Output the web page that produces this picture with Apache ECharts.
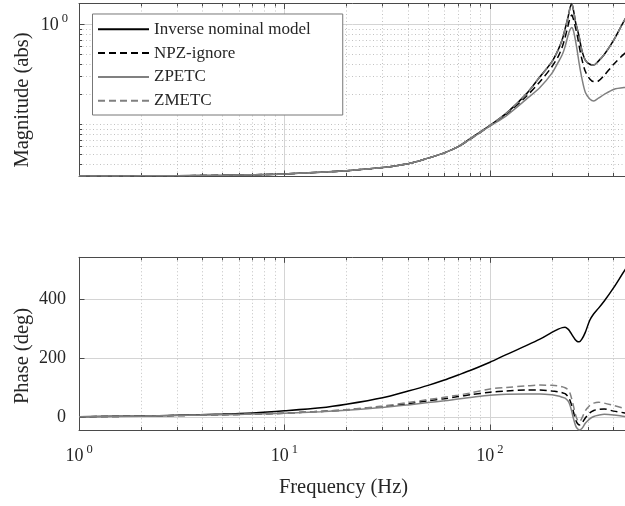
<!DOCTYPE html>
<html><head><meta charset="utf-8">
<script src="https://cdn.jsdelivr.net/npm/echarts@6/dist/echarts.min.js"></script>
<style>html,body{margin:0;padding:0;background:#fff}#c{width:625px;height:506px}</style>
</head><body><div id="c"></div><script>
// ---- data ----
const freq = [1, 2, 3, 5, 7, 10, 15, 20, 30, 40, 50, 60, 70, 80, 100, 120, 150, 175, 200, 215, 225, 232, 240, 245, 250, 255, 261, 266, 272, 280, 291, 306, 320, 337, 360, 400, 453, 500];
const magInverse = [0.0305, 0.0306, 0.0307, 0.031, 0.0314, 0.032, 0.0333, 0.0345, 0.037, 0.0405, 0.046, 0.052, 0.06, 0.072, 0.098, 0.129, 0.201, 0.30, 0.423, 0.56, 0.71, 0.90, 1.19, 1.45, 1.62, 1.38, 1.05, 0.90, 0.74, 0.55, 0.44, 0.40, 0.393, 0.43, 0.50, 0.697, 1.12, 1.55];
const magNPZ = [0.0305, 0.0306, 0.0307, 0.031, 0.0314, 0.032, 0.0333, 0.0345, 0.037, 0.0405, 0.046, 0.052, 0.06, 0.071, 0.097, 0.126, 0.19, 0.267, 0.377, 0.48, 0.60, 0.74, 0.98, 1.15, 1.24, 1.12, 0.92, 0.78, 0.60, 0.45, 0.34, 0.285, 0.268, 0.272, 0.31, 0.40, 0.513, 0.58];
const magZPETC = [0.0305, 0.0306, 0.0307, 0.031, 0.0314, 0.032, 0.0333, 0.0345, 0.037, 0.0405, 0.046, 0.052, 0.06, 0.071, 0.096, 0.122, 0.178, 0.234, 0.324, 0.42, 0.50, 0.60, 0.78, 0.88, 0.93, 0.86, 0.68, 0.54, 0.40, 0.29, 0.21, 0.18, 0.172, 0.183, 0.20, 0.224, 0.234, 0.236];
const magZMETC = [0.0305, 0.0306, 0.0307, 0.031, 0.0314, 0.032, 0.0333, 0.0345, 0.037, 0.0405, 0.046, 0.052, 0.06, 0.072, 0.098, 0.129, 0.201, 0.30, 0.423, 0.56, 0.71, 0.90, 1.19, 1.45, 1.62, 1.38, 1.05, 0.90, 0.74, 0.55, 0.44, 0.40, 0.393, 0.43, 0.50, 0.697, 1.12, 1.55];
const phaseInverse = [2, 4.5, 7, 11, 15, 22, 32, 44, 66, 89, 108, 126, 143, 158, 186, 212, 242, 264, 287, 298, 303, 304, 298, 290, 280, 271, 261, 256, 255, 264, 287, 328, 350, 368, 393, 438, 497, 540];
const phaseNPZ = [2, 4, 6, 9, 11, 14, 20, 25, 36, 46, 56, 63, 70, 76, 85, 89, 92, 92, 89, 86, 83, 80, 70, 58, 40, 18, -8, -20, -26, -20, -2, 15, 23, 27, 28, 21, 15, 10];
const phaseZPETC = [2, 4, 6, 9, 11, 14, 19, 24, 33, 42, 50, 56, 62, 67, 75, 78, 79, 79, 76, 72, 68, 65, 55, 42, 20, -5, -28, -38, -42.8, -38, -20, -5, 3, 7, 10, 8, 3, 0];
const phaseZMETC = [2, 4, 6, 9, 11, 14, 20, 26, 38, 50, 60, 68, 75, 82, 96, 101, 106, 109, 108, 106, 103, 100, 93, 82, 62, 38, 8, -8, -15, -3, 22, 40, 48, 51, 48, 40, 30, 23];
const seriesNames = ['Inverse nominal model', 'NPZ-ignore', 'ZPETC', 'ZMETC'];
const xMajorTicks = [1, 10, 100];
const xMinorTicks = [2, 3, 4, 5, 6, 7, 8, 9, 20, 30, 40, 50, 60, 70, 80, 90, 200, 300, 400];
const magMajorTicks = [1];
const magMinorTicks = [0.04, 0.05, 0.06, 0.07, 0.08, 0.09, 0.1, 0.2, 0.3, 0.4, 0.5, 0.6, 0.7, 0.8, 0.9];
const phaseTicks = [0, 200, 400];
const xRange = [1, 500];
const magRange = [0.0305, 1.62];
const phaseRange = [-42.8, 540.6];

// ---- styling ----
const FONT = 'Liberation Serif';
const TXT = '#262626';
const FRAME = '#4a4a4a';
const GRID = '#d4d4d4';
const MINOR = {color: '#c2c2c2', width: 1, type: [1, 2.5]};
const styles = [
  {color: '#000000', type: 'solid'},
  {color: '#000000', type: [7, 4]},
  {color: '#808080', type: 'solid'},
  {color: '#808080', type: [7, 4]}
];
const L = Math.log10;
const richPow = {
  b: {fontFamily: FONT, fontSize: 18, color: TXT, verticalAlign: 'bottom', lineHeight: 20},
  s: {fontFamily: FONT, fontSize: 12.5, color: TXT, verticalAlign: 'bottom', lineHeight: 13, padding: [0, 0, 9, 3]}
};
function powLabel(v) {
  const e = Math.round(L(v));
  return Math.abs(v - Math.pow(10, e)) < 1e-6 * v ? '{b|10}{s|' + e + '}' : '';
}
function magLabel(v) {
  return Math.abs(v - magMajorTicks[0]) < 1e-6 ? powLabel(v) : '';
}
function deco(gridIndex, position, range, values, len, split, showLine) {
  return {
    type: 'value', gridIndex: gridIndex, position: position, min: range[0], max: range[1],
    axisLine: {show: !!showLine, onZero: false, lineStyle: {color: FRAME, width: 1}},
    axisTick: {show: true, inside: true, length: len, customValues: values, lineStyle: {color: FRAME, width: 1}},
    axisLabel: {show: false},
    splitLine: split ? {show: true, lineStyle: split} : {show: false}
  };
}
const xLog = [L(xRange[0]), L(xRange[1])];
const magLog = [L(magRange[0]), L(magRange[1])];
const grids = [
  {left: 79, top: 3.5, width: 554.6, height: 172.5, outerBoundsMode: 'none', containLabel: false},
  {left: 79, top: 257.3, width: 554.6, height: 172.7, outerBoundsMode: 'none', containLabel: false}
];
function mainX(g) {
  return {
    type: 'log', logBase: 10, gridIndex: g, position: 'bottom', min: xRange[0], max: xRange[1],
    axisLine: {show: true, onZero: false, lineStyle: {color: FRAME, width: 1}},
    axisTick: {show: true, inside: true, length: 5.5, lineStyle: {color: FRAME}},
    axisLabel: g === 1 ? {show: true, margin: 15, formatter: powLabel, rich: richPow} : {show: false},
    splitLine: {show: true, lineStyle: {color: GRID, width: 1}},
    minorTick: {show: false}, minorSplitLine: {show: false}
  };
}
const xAxis = [
  mainX(0), mainX(1),
  deco(0, 'bottom', xLog, xMinorTicks.map(L), 3, MINOR, false),
  deco(0, 'top', xLog, xMajorTicks.map(L), 5.5, null, true),
  deco(0, 'top', xLog, xMinorTicks.map(L), 3, null, false),
  deco(1, 'bottom', xLog, xMinorTicks.map(L), 3, MINOR, false),
  deco(1, 'top', xLog, xMajorTicks.map(L), 5.5, null, true),
  deco(1, 'top', xLog, xMinorTicks.map(L), 3, null, false)
];
const yAxis = [
  {
    type: 'log', logBase: 10, gridIndex: 0, position: 'left', min: magRange[0], max: magRange[1],
    axisLine: {show: true, onZero: false, lineStyle: {color: FRAME, width: 1}},
    axisTick: {show: false},
    axisLabel: {show: true, margin: 11, formatter: magLabel, rich: richPow},
    splitLine: {show: false}
  },
  {
    type: 'value', gridIndex: 1, position: 'left', min: phaseRange[0], max: phaseRange[1],
    axisLine: {show: true, onZero: false, lineStyle: {color: FRAME, width: 1}},
    axisTick: {show: true, inside: true, length: 5.5, customValues: phaseTicks, lineStyle: {color: FRAME}},
    axisLabel: {show: true, margin: 13, customValues: phaseTicks, fontFamily: FONT, fontSize: 18, color: TXT},
    splitLine: {show: true, lineStyle: {color: GRID, width: 1}}
  },
  deco(0, 'left', magLog, magMajorTicks.map(L), 5.5, {color: GRID, width: 1}, false),
  deco(0, 'left', magLog, magMinorTicks.map(L), 3, MINOR, false)
];
const magData = [magInverse, magNPZ, magZPETC, magZMETC];
const phaseData = [phaseInverse, phaseNPZ, phaseZPETC, phaseZMETC];
const series = [];
function addSeries(arrs, xi, yi) {
  arrs.forEach(function (arr, i) {
    series.push({
      name: seriesNames[i], type: 'line', xAxisIndex: xi, yAxisIndex: yi,
      data: freq.map(function (f, k) { return [f, arr[k]]; }),
      symbol: 'none', showSymbol: false, smooth: 0.3, clip: true,
      lineStyle: {color: styles[i].color, type: styles[i].type, width: 1.5},
      itemStyle: {color: styles[i].color},
      emphasis: {disabled: true}, silent: true, z: 3
    });
  });
}
addSeries(magData, 0, 0);
addSeries(phaseData, 1, 1);

const chart = echarts.init(document.getElementById('c'), null, {renderer: 'canvas'});
chart.setOption({
  animation: false,
  backgroundColor: '#ffffff',
  grid: grids,
  xAxis: xAxis,
  yAxis: yAxis,
  legend: {
    data: seriesNames, orient: 'vertical', left: 92.5, top: 14,
    itemWidth: 51, itemHeight: 14, itemGap: 3.8, align: 'left',
    padding: [5.3, 32, 4.3, 4.5],
    backgroundColor: '#ffffff', borderColor: '#777777', borderWidth: 1,
    itemStyle: {opacity: 0},
    textStyle: {fontFamily: FONT, fontSize: 17, color: TXT, lineHeight: 20},
    selectedMode: false
  },
  graphic: [
    {type: 'text', x: 23, y: 100, rotation: Math.PI / 2,
     style: {text: 'Magnitude (abs)', fontFamily: FONT, fontSize: 20.5, fill: TXT, align: 'center', verticalAlign: 'middle'}},
    {type: 'text', x: 23, y: 356, rotation: Math.PI / 2,
     style: {text: 'Phase (deg)', fontFamily: FONT, fontSize: 20.5, fill: TXT, align: 'center', verticalAlign: 'middle'}},
    {type: 'text', x: 343.5, y: 488,
     style: {text: 'Frequency (Hz)', fontFamily: FONT, fontSize: 20.5, fill: TXT, align: 'center', verticalAlign: 'middle'}}
  ],
  series: series
});
</script></body></html>
